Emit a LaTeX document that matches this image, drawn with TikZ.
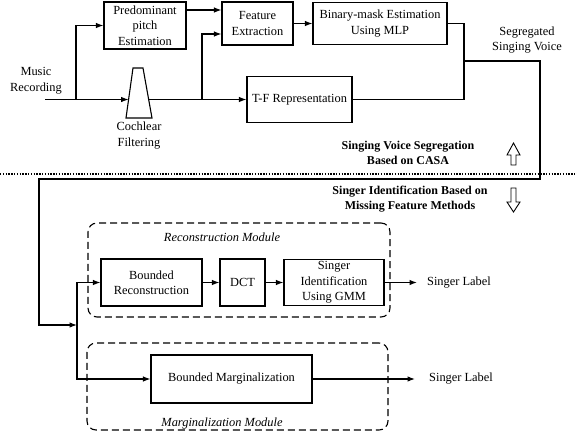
\documentclass[tikz,border=0pt]{standalone}
\usepackage{fontspec}
\setmainfont{Liberation Serif}
\usetikzlibrary{arrows.meta,calc}
\begin{document}
\begin{tikzpicture}[x=1pt,y=-1pt,
  every node/.style={font=\fontsize{12.4}{15.5}\selectfont, align=center, inner sep=0pt},
  blk/.style={draw, line width=1.1pt},
  conn/.style={line width=1.1pt},
  arr/.style={conn, -{Latex[length=7.5pt,width=5.5pt]}},
  dashbox/.style={draw, line width=1.1pt, dash pattern=on 7pt off 4pt, rounded corners=9pt},
  boldtxt/.style={font=\fontsize{12}{14.5}\selectfont\bfseries},
  itatxt/.style={font=\fontsize{12.4}{15}\selectfont\itshape},
  dotline/.style={line width=1.4pt, dash pattern=on 1.4pt off 1.4pt},
  hollow/.style={draw, line width=0.9pt, fill=white}]
\useasboundingbox (0,0) rectangle (577,432);

% ---------- top part ----------
\node[blk, minimum width=82pt, minimum height=47pt] (pde) at (145,25.5) {Predominant\\pitch\\Estimation};
\node[blk, minimum width=71pt, minimum height=43pt] (fe) at (257.5,23.5) {Feature\\Extraction};
\node[blk, minimum width=134pt, minimum height=42pt] (bme) at (380,23.5) {Binary-mask Estimation\\Using MLP};
\node[blk, minimum width=105pt, minimum height=46pt] (tf) at (299.5,99.5) {T-F Representation};

% cochlear filter (trapezoid)
\draw[conn] (133,68) -- (143,68) -- (152,118) -- (126,118) -- cycle;
\coordinate (cin) at (128.6,99.5);
\coordinate (cout) at (148.7,99.5);

\node (mr) at (36,80.5) {Music\\Recording};
\node (cf) at (139,135.5) {Cochlear\\Filtering};
\node (sv) at (527,40) {Segregated\\Singing Voice};

\coordinate (in) at (45,99.5);
\coordinate (b1) at (76,99.5);
\coordinate (b2) at (202,99.5);
\draw[arr] (in) -- (cin);
\draw[arr] (b1) |- (pde.west);
\draw[arr] (cout) -- (tf.west);
\draw[arr] (b2) |- ($(fe.west)+(0,10.5)$);
\draw[arr] ($(pde.east)+(0,-15.5)$) coordinate (p1) -- (p1 -| fe.west);
\draw[arr] (fe) -- (bme);

\coordinate (j1) at (464,99.5);
\coordinate (j2) at (464,61);
\coordinate (c1) at (540,61);
\coordinate (c2) at (540,179);
\coordinate (c3) at (39,179);
\coordinate (c4) at (39,325);
\coordinate (b3) at (77,325);
\draw[conn] (bme.east) -| (j1);
\draw[conn] (tf.east) -- (j1);
\draw[arr] (j2) -- (c1) -- (c2) -- (c3) -- (c4) -- (b3);

% ---------- separator ----------
\coordinate (dl) at (0,174);
\coordinate (dr) at (577,174);
\draw[dotline] (dl) -- (dr);

\node[boldtxt] (t1) at (408,153) {Singing Voice Segregation\\Based on CASA};
\node[boldtxt] (t2) at (410,199) {Singer Identification Based on\\Missing Feature Methods};

\draw[hollow] (511,165) -- (511,155) -- (507,155) -- (513.5,143) -- (520,155) -- (516,155) -- (516,165) -- cycle;
\draw[hollow] (511,188) -- (516,188) -- (516,202) -- (520,202) -- (513.5,212) -- (507,202) -- (511,202) -- cycle;

% ---------- bottom part ----------
\node[dashbox, minimum width=302pt, minimum height=94pt] (rec) at (239,270) {};
\node[itatxt] (rect) at (222,237) {Reconstruction Module};
\node[blk, minimum width=101pt, minimum height=47pt] (br) at (151.5,282.5) {Bounded\\Reconstruction};
\node[blk, minimum width=45pt, minimum height=47pt] (dct) at (242.5,282.5) {DCT};
\node[blk, minimum width=100pt, minimum height=46pt] (gmm) at (334,282.5) {Singer\\Identification\\Using GMM};
\coordinate (o1) at (417,282.5);
\node (sl1) at (459,282.5) {Singer Label};
\draw[arr] (br) -- (dct);
\draw[arr] (dct) -- (gmm);
\draw[arr] (gmm) -- (o1);

\node[dashbox, minimum width=301pt, minimum height=87pt] (marg) at (237.5,386.5) {};
\node[itatxt] (margt) at (222,424) {Marginalization Module};
\node[blk, minimum width=161pt, minimum height=48pt] (bm) at (231.5,379) {Bounded Marginalization};
\coordinate (o2) at (415,379);
\node (sl2) at (461,379) {Singer Label};
\draw[arr] (bm) -- (o2);

\draw[arr] (b3) |- (br.west);
\draw[arr] (b3) |- (bm.west);
\end{tikzpicture}
\end{document}
